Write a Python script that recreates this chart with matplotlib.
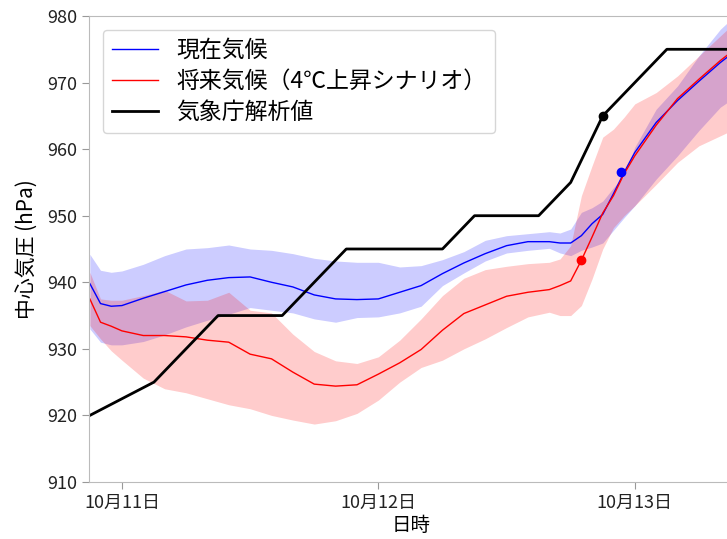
import matplotlib.pyplot as plt
import numpy as np

plt.rcParams['font.family'] = ['Noto Sans CJK JP', 'DejaVu Sans']

# hours from 10/11 00:00
hours = [-3, -2, -1, 0, 2, 4, 6, 8, 10, 12, 14, 16, 18, 20, 22, 24, 26, 28, 30, 32, 34,
         36, 38, 40, 41, 42, 43, 44, 45, 46, 47, 48, 50, 52, 54, 56, 58]

# present climate (blue)
present_mean = [939.8, 936.8, 936.4, 936.5, 937.6, 938.6, 939.6, 940.3, 940.7, 940.8, 940.0,
                939.3, 938.1, 937.5, 937.4, 937.5, 938.5, 939.5, 941.3, 942.9, 944.3, 945.5,
                946.1, 946.1, 945.9, 945.9, 947.0, 948.8, 950.2, 953.3, 956.5, 959.5, 964.0,
                967.3, 970.2, 973.0, 975.5]
present_upper = [944.2, 941.8, 941.5, 941.7, 942.7, 944.0, 945.0, 945.2, 945.6, 945.0, 944.8,
                 944.3, 943.6, 943.2, 943.0, 943.0, 942.3, 942.5, 943.4, 944.6, 946.3, 947.0,
                 947.3, 947.6, 947.4, 948.0, 950.5, 951.2, 952.2, 954.2, 956.0, 960.3, 966.0,
                 969.5, 974.0, 978.0, 981.0]
present_lower = [933.0, 931.0, 930.6, 930.6, 931.1, 932.1, 933.3, 934.3, 935.2, 936.2, 935.8,
                 935.4, 934.5, 934.0, 934.7, 934.8, 935.4, 936.4, 939.5, 941.4, 943.2, 944.4,
                 944.8, 945.1, 944.4, 944.0, 944.8, 945.3, 945.9, 947.8, 949.7, 951.5, 955.5,
                 959.0, 962.8, 966.3, 968.5]

# future climate (red)
future_mean = [937.5, 934.0, 933.4, 932.7, 932.0, 932.0, 931.8, 931.3, 931.0, 929.2, 928.5,
               926.5, 924.7, 924.4, 924.6, 926.2, 927.9, 929.9, 932.8, 935.3, 936.6, 937.9,
               938.5, 938.9, 939.5, 940.2, 943.3, 946.8, 950.4, 953.0, 956.3, 959.0, 963.6,
               967.6, 970.5, 973.3, 975.8]
future_upper = [941.5, 937.5, 937.3, 937.3, 938.0, 938.8, 937.2, 937.3, 938.5, 935.8, 935.4,
                932.2, 929.6, 928.2, 927.8, 928.8, 931.3, 934.5, 938.0, 940.6, 941.9, 942.4,
                942.8, 943.0, 943.5, 945.5, 953.0, 957.5, 961.8, 963.0, 964.8, 966.8, 968.5,
                971.0, 974.0, 977.0, 980.0]
future_lower = [933.5, 931.5, 929.7, 928.3, 925.6, 924.0, 923.4, 922.5, 921.6, 921.0, 920.0,
                919.3, 918.7, 919.2, 920.3, 922.3, 925.0, 927.2, 928.3, 930.0, 931.5, 933.2,
                934.8, 935.5, 935.0, 935.0, 936.5, 940.5, 945.0, 948.2, 950.0, 951.5, 954.7,
                958.0, 960.5, 962.0, 963.5]

# JMA analysis (black)
jma_hours = [-3, 3, 9, 15, 21, 30, 33, 39, 42, 45, 51, 60]
jma_values = [920, 925, 935, 935, 945, 945, 950, 950, 955, 965, 975, 975]

# landfall markers
dot_hours = [46.7, 43, 45]
dot_values = [956.5, 943.3, 965]
dot_colors = ['blue', 'red', 'black']

tick_hours = [0, 24, 48]
tick_labels = ['10月11日', '10月12日', '10月13日']

fig = plt.figure(figsize=(7.27, 5.39), dpi=100)
# axes runs slightly past the right edge of the figure (cropped like the original)
ax = fig.add_axes([0.1224, 0.1058, 0.886, 0.8645])

ax.fill_between(hours, present_lower, present_upper, color='blue', alpha=0.2, lw=0)
ax.fill_between(hours, future_lower, future_upper, color='red', alpha=0.2, lw=0)
ax.plot(hours, present_mean, color='blue', lw=1, label='現在気候')
ax.plot(hours, future_mean, color='red', lw=1, label='将来気候（4℃上昇シナリオ）')
ax.plot(jma_hours, jma_values, color='black', lw=2, label='気象庁解析値')
for h, v, c in zip(dot_hours, dot_values, dot_colors):
    ax.plot(h, v, 'o', color=c, ms=6)

ax.set_xlim(-3.08, 57.2)
ax.set_ylim(910, 980)
ax.set_yticks(np.arange(910, 981, 10))
ax.set_xticks(tick_hours)
ax.set_xticklabels(tick_labels)
ax.tick_params(labelsize=13, color='#999999', length=5, labelcolor='#222222')
for s in ax.spines.values():
    s.set_color('#bbbbbb')

ax.set_xlabel('日時', fontsize=14, labelpad=2)
ax.set_ylabel('中心気圧 (hPa)', fontsize=15, labelpad=6)

ax.legend(loc='upper left', fontsize=16.5, handlelength=2.0, labelspacing=0.35,
          borderaxespad=0.6)

fig.savefig('out.png', dpi=100)
